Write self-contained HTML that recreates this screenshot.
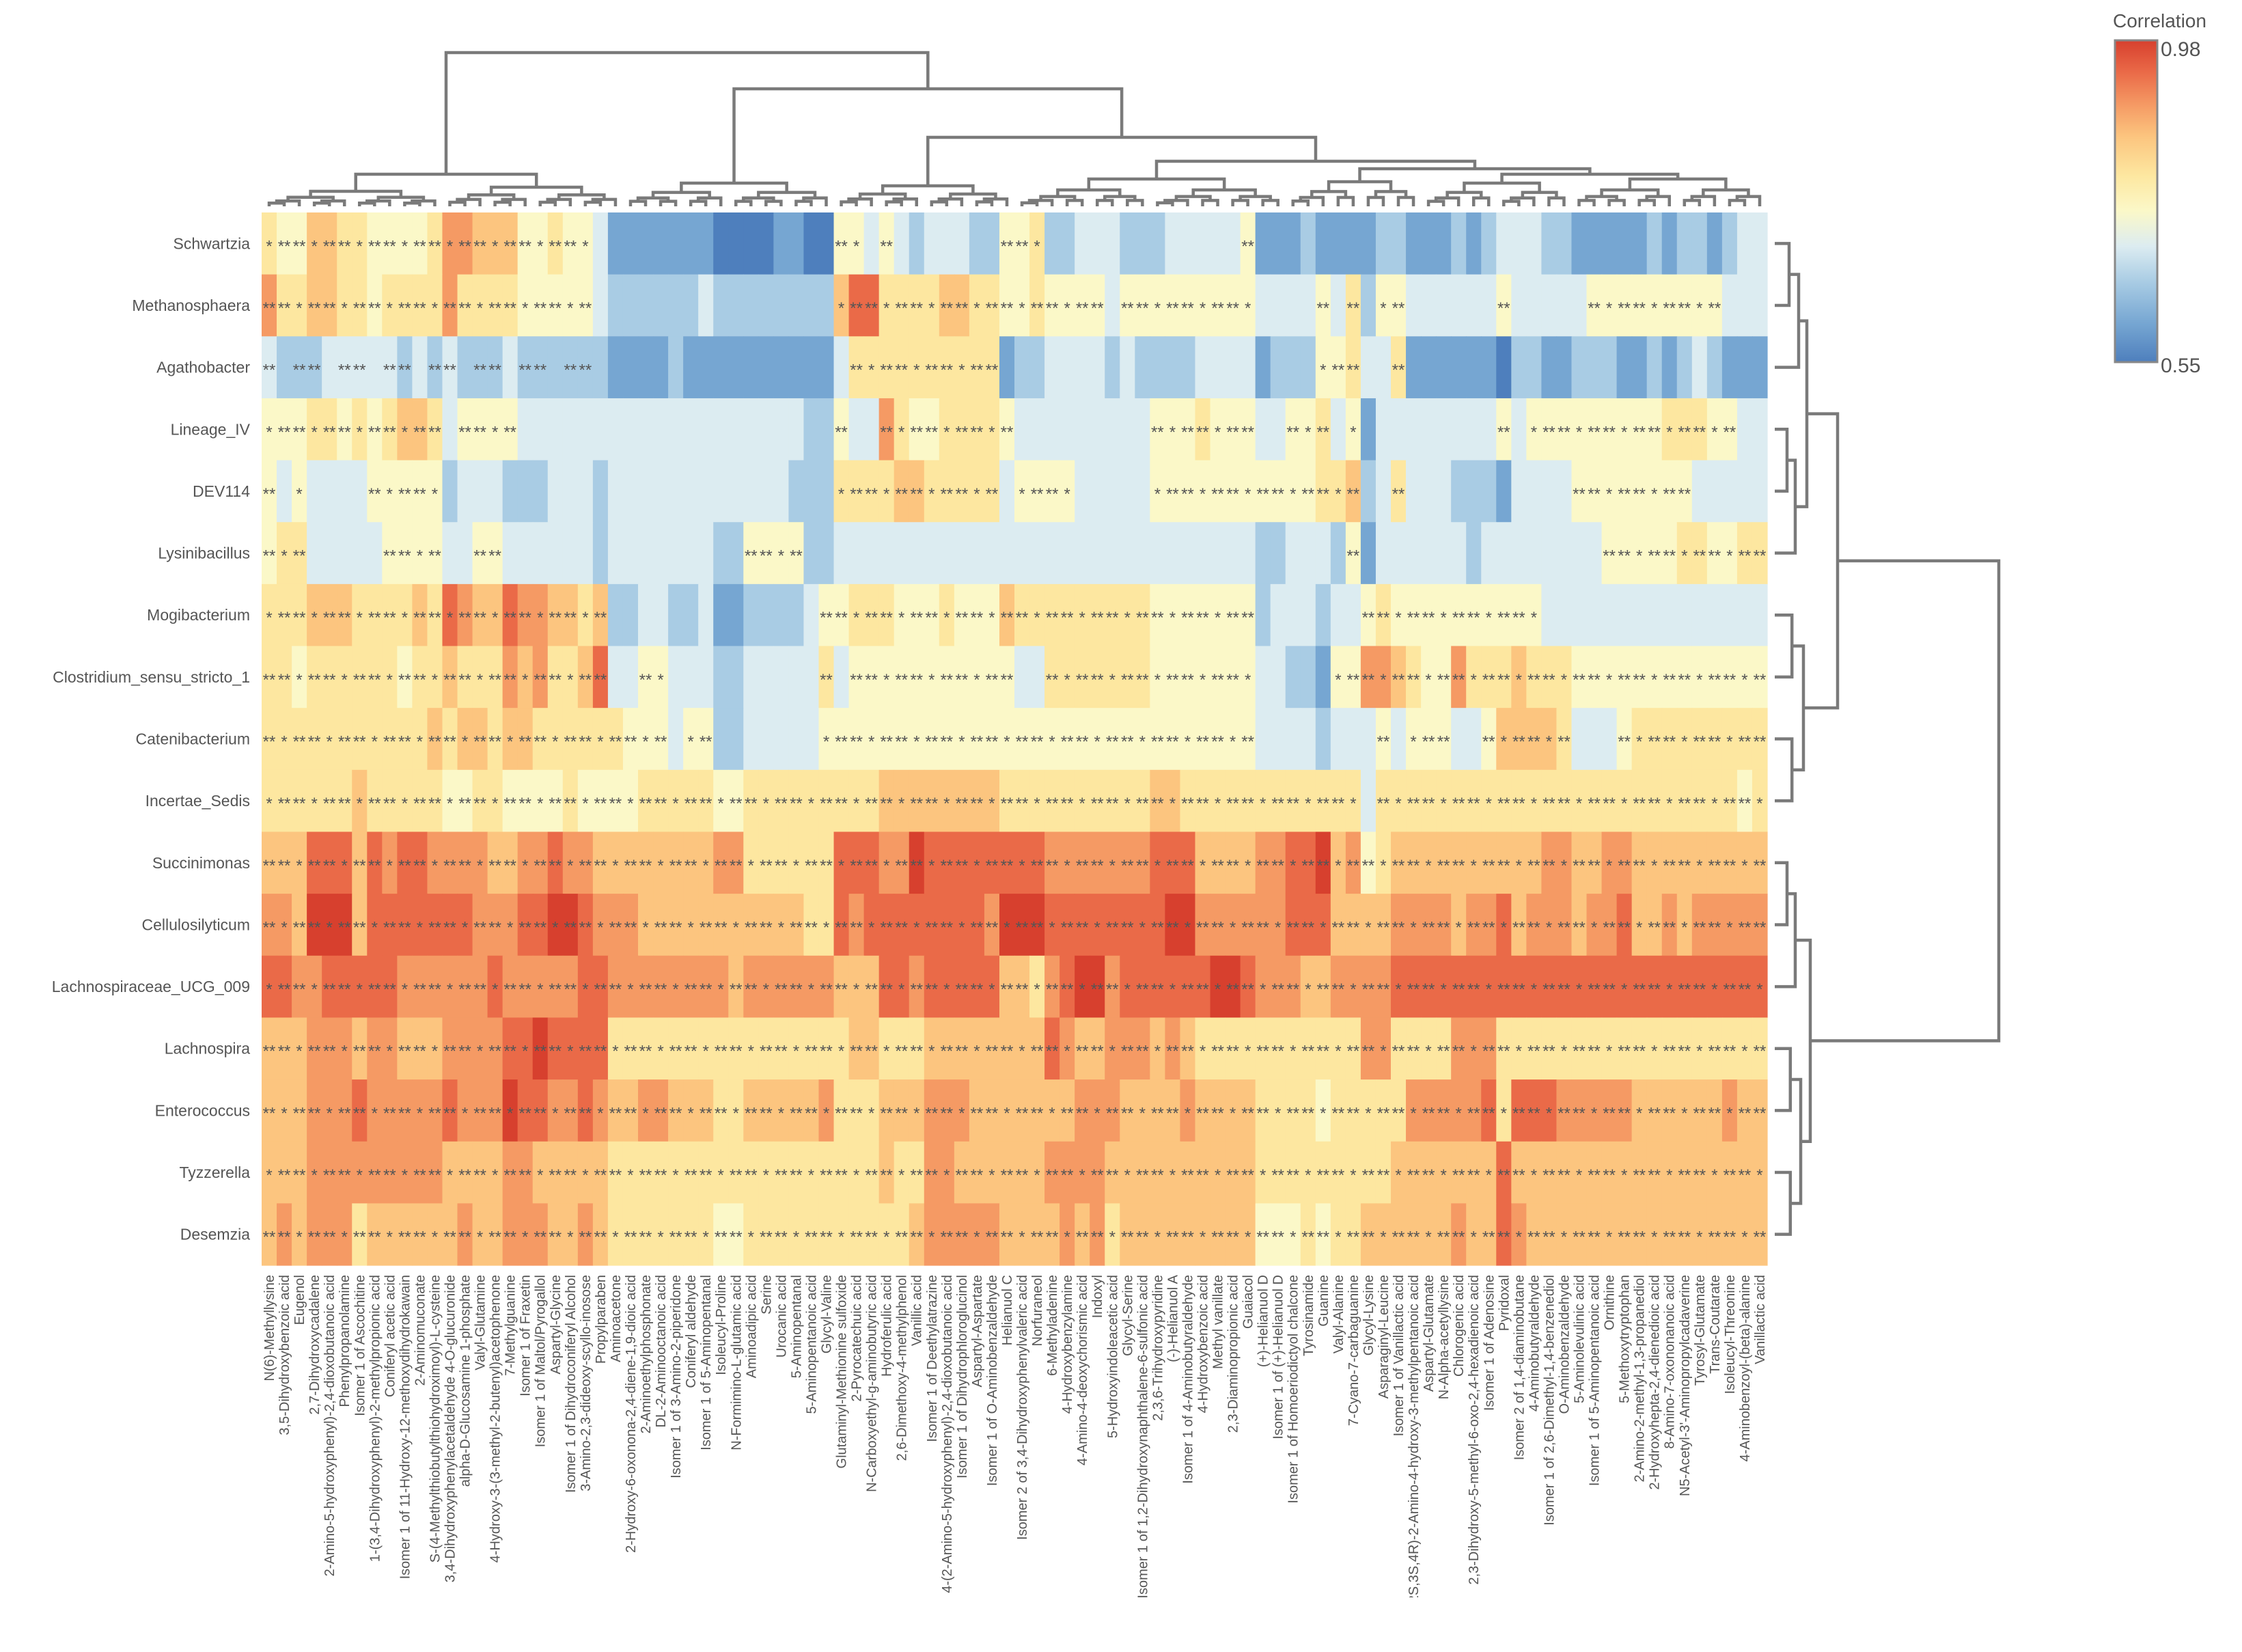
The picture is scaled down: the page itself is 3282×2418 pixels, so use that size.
<!DOCTYPE html>
<html><head><meta charset="utf-8"><title>Correlation heatmap</title>
<style>
html,body{margin:0;padding:0;background:#fff;}
svg{display:block;font-family:"Liberation Sans",sans-serif;}
</style></head>
<body>
<svg id="chart" width="3282" height="2418" viewBox="0 0 3282 2418" xmlns="http://www.w3.org/2000/svg">
<defs>
<linearGradient id="cbar" x1="0" y1="1" x2="0" y2="0">
<stop offset="0" stop-color="#4e7fbd"/><stop offset="0.12" stop-color="#76a6d2"/><stop offset="0.25" stop-color="#a9cce4"/><stop offset="0.36" stop-color="#dcecf1"/><stop offset="0.47" stop-color="#fbf8c8"/><stop offset="0.58" stop-color="#fde7a0"/><stop offset="0.7" stop-color="#fcc57f"/><stop offset="0.8" stop-color="#f59a64"/><stop offset="0.9" stop-color="#ea6a48"/><stop offset="1" stop-color="#d7402e"/>
</linearGradient>
<clipPath id="xclip"><rect x="360" y="1858" width="2260" height="480"/></clipPath>
</defs>
<g id="cells"></g>
<g id="stars"></g>
<g id="rowlabels"></g>
<g id="collabels" clip-path="url(#xclip)"></g>
<g id="topdendro"></g>
<g id="rightdendro"></g>
<g>
<text x="3093" y="40" font-size="28" fill="#555">Correlation</text>
<rect x="3096" y="59" width="62" height="471" fill="url(#cbar)" stroke="#888" stroke-width="3"/>
<text x="3163" y="82" font-size="30" fill="#555">0.98</text>
<text x="3163" y="545" font-size="30" fill="#555">0.55</text>
</g>
</svg>
<script>
// ---- data ----
const rowNames = ["Schwartzia","Methanosphaera","Agathobacter","Lineage_IV","DEV114","Lysinibacillus","Mogibacterium","Clostridium_sensu_stricto_1","Catenibacterium","Incertae_Sedis","Succinimonas","Cellulosilyticum","Lachnospiraceae_UCG_009","Lachnospira","Enterococcus","Tyzzerella","Desemzia"];
const colNames = ["N(6)-Methyllysine","3,5-Dihydroxybenzoic acid","Eugenol","2,7-Dihydroxycadalene","2-Amino-5-hydroxyphenyl)-2,4-dioxobutanoic acid","Phenylpropanolamine","Isomer 1 of Ascochitine","1-(3,4-Dihydroxyphenyl)-2-methylpropionic acid","Coniferyl acetic acid","Isomer 1 of 11-Hydroxy-12-methoxydihydrokawain","2-Aminomuconate","S-(4-Methylthiobutylthiohydroximoyl)-L-cysteine","3,4-Dihydroxyphenylacetaldehyde 4-O-glucuronide","alpha-D-Glucosamine 1-phosphate","Valyl-Glutamine","4-Hydroxy-3-(3-methyl-2-butenyl)acetophenone","7-Methylguanine","Isomer 1 of Fraxetin","Isomer 1 of Maltol/Pyrogallol","Aspartyl-Glycine","Isomer 1 of Dihydroconiferyl Alcohol","3-Amino-2,3-dideoxy-scyllo-inosose","Propylparaben","Aminoacetone","2-Hydroxy-6-oxonona-2,4-diene-1,9-dioic acid","2-Aminoethylphosphonate","DL-2-Aminooctanoic acid","Isomer 1 of 3-Amino-2-piperidone","Coniferyl aldehyde","Isomer 1 of 5-Aminopentanal","Isoleucyl-Proline","N-Formimino-L-glutamic acid","Aminoadipic acid","Serine","Urocanic acid","5-Aminopentanal","5-Aminopentanoic acid","Glycyl-Valine","Glutaminyl-Methionine sulfoxide","2-Pyrocatechuic acid","N-Carboxyethyl-g-aminobutyric acid","Hydroferulic acid","2,6-Dimethoxy-4-methylphenol","Vanillic acid","Isomer 1 of Deethylatrazine","4-(2-Amino-5-hydroxyphenyl)-2,4-dioxobutanoic acid","Isomer 1 of Dihydrophloroglucinol","Aspartyl-Aspartate","Isomer 1 of O-Aminobenzaldehyde","Helianuol C","Isomer 2 of 3,4-Dihydroxyphenylvaleric acid","Norfuraneol","6-Methyladenine","4-Hydroxybenzylamine","4-Amino-4-deoxychorismic acid","Indoxyl","5-Hydroxyindoleacetic acid","Glycyl-Serine","Isomer 1 of 1,2-Dihydroxynaphthalene-6-sulfonic acid","2,3,6-Trihydroxypyridine","(-)-Helianuol A","Isomer 1 of 4-Aminobutyraldehyde","4-Hydroxybenzoic acid","Methyl vanillate","2,3-Diaminopropionic acid","Guaiacol","(+)-Helianuol D","Isomer 1 of (+)-Helianuol D","Isomer 1 of Homoeriodictyol chalcone","Tyrosinamide","Guanine","Valyl-Alanine","7-Cyano-7-carbaguanine","Glycyl-Lysine","Asparaginyl-Leucine","Isomer 1 of Vanillactic acid","(2S,3S,4R)-2-Amino-4-hydroxy-3-methylpentanoic acid","Aspartyl-Glutamate","N-Alpha-acetyllysine","Chlorogenic acid","2,3-Dihydroxy-5-methyl-6-oxo-2,4-hexadienoic acid","Isomer 1 of Adenosine","Pyridoxal","Isomer 2 of 1,4-diaminobutane","4-Aminobutyraldehyde","Isomer 1 of 2,6-Dimethyl-1,4-benzenediol","O-Aminobenzaldehyde","5-Aminolevulinic acid","Isomer 1 of 5-Aminopentanoic acid","Ornithine","5-Methoxytryptophan","2-Amino-2-methyl-1,3-propanediol","2-Hydroxyhepta-2,4-dienedioic acid","8-Amino-7-oxononanoic acid","N5-Acetyl-3'-Aminopropylcadaverine","Tyrosyl-Glutamate","Trans-Coutarate","Isoleucyl-Threonine","4-Aminobenzoyl-(beta)-alanine","Vanillactic acid"];
// colour level per cell (0 = 0.55 ... 9 = 0.98)
const schwartzia = [5,4,4,6,6,5,5,4,4,4,4,5,7,7,6,6,6,4,4,5,4,4,3,1,1, 1,1,1,1,1,0,0,0,0,1,1,0,0,4,4,3,4,3,2,3,3,3,2,2,4, 4,5,2,2,3,3,3,2,2,2,3,3,3,3,3,4,1,1,1,2,1,1,1,1,2, 2,1,1,1,2,1,2,3,3,3,2,2,1,1,1,1,1,2,1,2,2,1,2,3,3];
const methanosphaera = [7,5,5,6,6,5,5,4,5,5,5,5,7,5,5,5,5,4,4,4,4,4,3,2,2, 2,2,2,2,3,2,2,2,2,2,2,2,2,6,8,8,5,5,5,5,6,6,5,5,4, 4,5,4,4,4,4,3,4,4,4,4,4,4,4,4,4,3,3,3,3,4,3,5,2,4, 4,3,3,3,3,3,3,4,3,3,3,3,3,4,4,4,4,4,4,4,4,4,3,3,3];
const agathobacter = [3,2,2,2,3,3,3,3,3,2,3,2,3,2,2,2,3,2,2,2,2,2,2,1,1, 1,1,2,1,1,1,1,1,1,1,1,1,1,3,5,5,5,5,5,5,5,5,5,5,1, 2,2,3,3,3,3,2,3,2,2,2,2,3,3,3,3,1,2,2,2,4,4,5,3,3, 5,1,1,1,1,1,1,0,2,2,1,1,2,2,2,1,1,2,1,2,3,2,1,1,1];
const lineageIV = [4,4,4,5,5,4,5,4,5,6,6,5,3,4,4,4,4,3,3,3,3,3,3,3,3, 3,3,3,3,3,3,3,3,3,3,3,2,2,4,3,3,7,5,4,4,5,5,5,5,4, 3,3,3,3,3,3,3,3,3,4,4,4,5,4,4,4,3,3,4,4,5,3,4,1,3, 3,3,3,3,3,3,3,4,3,4,4,4,4,4,4,4,4,4,5,5,5,4,4,3,3];
const dev114 = [4,3,4,3,3,3,3,4,4,4,4,4,2,3,3,3,2,2,2,3,3,3,2,3,3, 3,3,3,3,3,3,3,3,3,3,2,2,2,5,5,5,5,6,6,5,5,5,5,5,3, 4,4,4,4,3,3,3,3,3,4,4,4,4,4,4,4,4,4,4,4,5,5,6,2,3, 5,3,3,3,2,2,2,1,3,3,3,3,4,4,4,4,4,4,4,4,3,3,3,3,3];
const lysinibacillus = [4,5,5,3,3,3,3,3,4,4,4,4,3,3,4,4,3,3,3,3,3,3,2,3,3, 3,3,3,3,3,2,2,4,4,4,4,2,2,3,3,3,3,3,3,3,3,3,3,3,3, 3,3,3,3,3,3,3,3,3,3,3,3,3,3,3,3,2,2,3,3,3,2,4,1,3, 3,3,3,3,3,2,3,3,3,3,3,3,3,3,4,4,4,4,4,5,5,4,4,5,5];
const mogibacterium = [5,5,5,6,6,6,5,5,5,5,6,5,8,7,6,6,8,7,7,6,6,5,6,2,2, 3,3,2,2,3,1,1,2,2,2,2,3,4,4,5,5,5,4,4,4,5,4,4,4,6, 5,5,5,5,5,5,5,5,5,4,4,4,4,4,4,4,2,3,3,3,2,3,3,4,5, 4,4,4,4,4,4,4,4,4,4,3,3,3,3,3,3,3,3,3,3,3,3,3,3,3];
const clostridium = [5,5,4,5,5,5,5,5,5,4,5,5,6,5,5,5,7,6,7,5,5,6,8,3,3, 4,4,3,3,3,2,2,3,3,3,3,3,5,3,4,4,4,4,4,4,4,4,4,4,4, 3,3,5,5,5,5,5,5,5,4,4,4,4,4,4,4,3,3,2,2,1,4,4,7,7, 6,5,4,4,7,5,5,5,6,5,5,5,4,4,4,4,4,4,4,4,4,4,4,4,4];
const catenibacterium = [5,5,5,5,5,5,5,5,5,5,5,6,5,6,6,5,6,6,5,5,5,5,5,5,4, 4,4,3,4,4,2,2,3,3,3,3,3,4,4,4,4,4,4,4,4,4,4,4,4,4, 4,4,4,4,4,4,4,4,4,4,4,4,4,4,4,4,3,3,3,3,2,3,3,3,4, 3,4,4,4,3,3,4,6,6,6,6,5,3,3,3,4,5,5,5,5,5,5,5,5,5];
const incertaeSedis = [5,5,5,5,5,5,6,5,5,5,5,5,4,4,5,5,4,4,4,4,5,4,4,4,4, 5,5,5,5,5,4,4,5,5,5,5,5,5,5,5,5,6,6,6,6,6,6,6,6,5, 5,5,5,5,5,5,5,5,5,6,6,5,5,5,5,5,5,5,5,5,5,5,5,3,5, 5,5,5,5,5,5,5,5,5,5,5,5,5,5,5,5,5,5,5,5,5,5,5,4,5];
const succinimonas = [6,6,6,8,8,8,6,8,7,8,8,7,7,7,7,6,6,7,7,8,7,7,6,6,6, 6,6,6,6,6,7,7,5,5,5,5,5,5,8,8,8,7,7,9,8,8,8,8,8,8, 8,8,7,7,7,7,7,7,7,8,8,8,6,6,6,6,7,7,8,8,9,6,7,4,5, 6,6,6,6,6,6,6,6,6,6,7,7,6,6,7,7,6,6,6,6,6,6,6,6,6];
const cellulosilyticum = [7,7,6,9,9,9,6,8,8,8,8,8,8,8,7,7,7,8,8,9,9,8,7,7,7, 6,6,6,6,6,6,6,6,6,6,6,5,5,8,7,8,8,8,8,8,8,8,8,7,9, 9,9,8,8,8,8,8,8,8,8,9,9,7,7,7,7,7,7,8,8,8,6,6,6,6, 7,7,7,7,6,7,7,8,6,7,7,7,6,7,7,8,6,6,7,6,7,7,7,7,7];
const lachnospiraceaeUCG009 = [8,8,7,7,8,8,8,8,8,7,7,7,7,7,7,8,7,7,7,7,7,8,8,7,7, 7,7,7,7,7,7,6,7,7,7,7,7,7,6,6,6,8,8,7,8,8,8,8,8,6, 6,5,7,8,9,9,7,8,8,8,8,8,8,9,9,8,7,7,7,6,6,7,7,7,7, 8,8,8,8,8,8,8,8,8,8,8,8,8,8,8,8,8,8,8,8,8,8,8,8,8];
const lachnospira = [6,6,6,7,7,7,6,7,7,6,6,6,7,7,7,7,8,8,9,8,8,8,8,5,5, 5,5,5,5,5,5,5,5,5,5,5,5,5,5,6,6,5,5,5,6,6,6,6,6,6, 6,6,8,7,6,6,7,7,7,6,7,6,5,5,5,5,5,5,5,5,5,5,5,7,7, 5,5,5,5,7,7,7,5,5,5,5,5,5,5,5,5,5,5,5,5,5,5,5,5,5];
const enterococcus = [6,6,6,7,7,7,8,7,7,7,7,7,8,7,7,7,9,8,8,7,7,8,7,6,6, 7,7,6,6,6,5,5,6,6,6,6,6,7,5,5,5,6,6,6,7,7,7,6,6,6, 6,6,6,6,7,7,7,6,6,6,6,7,6,6,6,6,5,5,5,5,4,5,5,5,5, 5,7,7,7,7,7,8,5,8,8,8,7,7,7,7,7,6,6,6,6,6,6,7,6,6];
const tyzzerella = [6,6,6,7,7,7,7,7,7,7,7,7,6,6,6,6,7,7,6,6,6,6,6,5,5, 5,5,5,5,5,5,5,5,5,5,5,5,5,5,5,5,6,5,5,7,7,6,6,6,6, 6,6,7,7,7,7,6,6,6,6,6,6,6,6,6,6,5,5,5,5,5,5,5,5,5, 6,6,6,6,6,6,6,8,6,6,6,6,6,6,6,6,6,6,6,6,6,6,6,6,6];
const desemzia = [6,7,6,7,7,7,5,6,6,6,6,6,6,7,6,6,7,7,7,6,6,7,6,5,5, 5,5,5,5,5,4,4,5,5,5,5,5,5,5,5,5,5,5,6,7,7,7,7,7,6, 6,6,6,7,6,7,5,6,6,6,6,6,6,6,6,6,4,4,4,5,4,5,5,6,6, 6,6,6,6,7,6,6,8,7,6,6,6,6,6,6,6,6,6,6,6,6,6,6,6,6];
const matrix = [schwartzia,methanosphaera,agathobacter,lineageIV,dev114,lysinibacillus,mogibacterium,clostridium,catenibacterium,incertaeSedis,succinimonas,cellulosilyticum,lachnospiraceaeUCG009,lachnospira,enterococcus,tyzzerella,desemzia];
const corrRange = [0.55, 0.98];

// ---- layout ----
const NS = "http://www.w3.org/2000/svg";
const X0 = 383, Y0 = 311, W = 2204, H = 1541;
const nC = colNames.length, nR = rowNames.length;
const cw = W / nC, rh = H / nR;
const xPos = i => X0 + i * cw;
const yPos = r => Y0 + r * rh;
const levelToCorr = l => corrRange[0] + l * (corrRange[1] - corrRange[0]) / 9;
const stops = ["#4e7fbd","#76a6d2","#a9cce4","#dcecf1","#fbf8c8","#fde7a0","#fcc57f","#f59a64","#ea6a48","#d7402e"];
function hex(h){return [parseInt(h.slice(1,3),16),parseInt(h.slice(3,5),16),parseInt(h.slice(5,7),16)];}
function colorOf(c){
  let t = (c - corrRange[0]) / (corrRange[1] - corrRange[0]) * 9;
  t = Math.max(0, Math.min(9, t));
  const i = Math.min(8, Math.floor(t)), f = t - i;
  const a = hex(stops[i]), b = hex(stops[i+1]);
  return "rgb(" + a.map((v,k)=>Math.round(v+(b[k]-v)*f)).join(",") + ")";
}
function mk(tag, attrs, parent){
  const e = document.createElementNS(NS, tag);
  for (const k in attrs) e.setAttribute(k, attrs[k]);
  parent.appendChild(e); return e;
}
const gCells = document.getElementById("cells");
const gStars = document.getElementById("stars");
matrix.forEach((row, r) => {
  row.forEach((lvl, c) => {
    const v = levelToCorr(lvl);
    const rect = mk("rect", {x: xPos(c).toFixed(2), y: yPos(r).toFixed(2), width: (cw+0.6).toFixed(2), height: (rh+0.6).toFixed(2), fill: colorOf(v)}, gCells);
    
    
    if (v >= 0.735 || (r === 2 && c < 23 && (c % 3 !== 1))) {
      const s = mk("text", {x: (xPos(c) + cw/2).toFixed(2), y: (yPos(r) + rh/2 + 12).toFixed(2), "text-anchor": "middle", "font-size": "24", fill: "#555"}, gStars);
      s.textContent = (c + r) % 3 === 0 ? "*" : "**";
      
      
    }
  });
});
const gRL = document.getElementById("rowlabels");
rowNames.forEach((n, r) => {
  const t = mk("text", {x: 366, y: (yPos(r) + rh/2 + 8).toFixed(2), "text-anchor": "end", "font-size": "23", fill: "#555"}, gRL);
  t.textContent = n;
  
  
});
const gCL = document.getElementById("collabels");
colNames.forEach((n, c) => {
  const x = xPos(c) + cw/2 + 7, y = 1866;
  const t = mk("text", {x: 0, y: 0, transform: "translate(" + x.toFixed(2) + "," + y + ") rotate(-90)", "text-anchor": "end", "font-size": "20", fill: "#555"}, gCL);
  t.textContent = n;
  
  
});

// ---- dendrograms ----
const lineStyle = {stroke: "#7a7a7a", "stroke-width": "4.5", fill: "none"};
function seg(parent, d){
  const p = mk("path", Object.assign({d: d}, lineStyle), parent);
  
  
}
// generic tree: node {lo,hi,h,kids}; horizontal=false -> top dendrogram
function build(node, leafH, center, parent, vertical){
  if (node.lo === node.hi) return {p: center(node.lo), h: leafH};
  let kids = node.kids;
  if (!kids) {
    const mid = Math.floor((node.lo + node.hi) / 2);
    const nh = node.h + (leafH - node.h) * 0.4;
    kids = [{lo: node.lo, hi: mid, h: nh}, {lo: mid + 1, hi: node.hi, h: nh}];
  }
  const a = build(kids[0], leafH, center, parent, vertical);
  const b = build(kids[1], leafH, center, parent, vertical);
  if (vertical) {
    seg(parent, "M" + a.p + "," + a.h + " V" + node.h + " H" + b.p + " V" + b.h);
  } else {
    seg(parent, "M" + a.h + "," + a.p + " H" + node.h + " V" + b.p + " H" + b.h);
  }
  return {p: (a.p + b.p) / 2, h: node.h};
}
const colTree = {lo:0, hi:99, h:77, kids:[
  {lo:0, hi:23, h:255, kids:[{lo:0,hi:11,h:280},{lo:12,hi:23,h:274}]},
  {lo:24, hi:99, h:130, kids:[
    {lo:24, hi:37, h:268},
    {lo:38, hi:99, h:201, kids:[
      {lo:38, hi:49, h:272},
      {lo:50, hi:99, h:236, kids:[
        {lo:50, hi:67, h:262},
        {lo:68, hi:99, h:247, kids:[
          {lo:68, hi:76, h:266},
          {lo:77, hi:99, h:255, kids:[{lo:77,hi:86,h:268},{lo:87,hi:99,h:262}]}
        ]}
      ]}
    ]}
  ]}
]};
build(colTree, 302, i => +(xPos(i) + cw/2).toFixed(2), document.getElementById("topdendro"), true);
const rowTree = {lo:0, hi:16, h:2926, kids:[
  {lo:0, hi:9, h:2690, kids:[
    {lo:0, hi:5, h:2645, kids:[{lo:0,hi:2,h:2633},{lo:3,hi:5,h:2628}]},
    {lo:6, hi:9, h:2640}
  ]},
  {lo:10, hi:16, h:2650, kids:[{lo:10,hi:12,h:2628},{lo:13,hi:16,h:2636}]}
]};
build(rowTree, 2598, r => +(yPos(r) + rh/2).toFixed(2), document.getElementById("rightdendro"), false);
</script>
</body></html>
